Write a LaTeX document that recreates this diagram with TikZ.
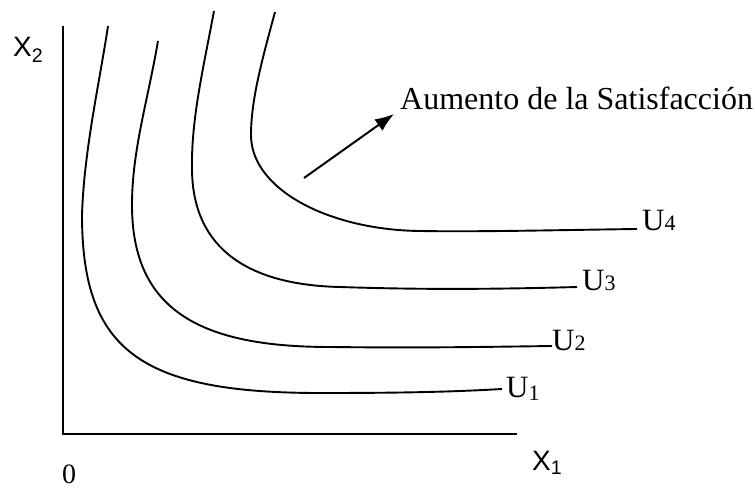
\documentclass[tikz,border=0pt]{standalone}
\usepackage{fontspec}
\setmainfont{Liberation Serif}
\setsansfont{Liberation Sans}
\usetikzlibrary{arrows.meta}
\tikzset{
  axis/.style={line width=2.2pt},
  icurve/.style={line width=1.9pt},
  ulabel/.style={anchor=base west, inner sep=0pt, font=\fontsize{31}{36}\selectfont},
  axlabel/.style={anchor=base west, inner sep=0pt, font=\sffamily\fontsize{28}{32}\selectfont},
}
\newcommand{\smalldig}[1]{{\fontsize{22}{22}\selectfont #1}}
\begin{document}
\begin{tikzpicture}[x=1pt,y=-1pt]
\useasboundingbox (0,0) rectangle (755,489);
% axes
\coordinate (top) at (63,26);
\coordinate (origin) at (63,434);
\coordinate (right) at (517,434);
\draw[axis] (top) -- (origin) -- (right);
% indifference curves
\coordinate (e1) at (502,389);
\coordinate (e2) at (552,346);
\coordinate (e3) at (577,287);
\coordinate (e4) at (637,229);
\draw[icurve] (108,26) .. controls (100,80) and (84,150) .. (82,215)
  .. controls (82,350) and (140,393) .. (320,393)
  .. controls (400,393) and (450,392) .. (e1);
\draw[icurve] (158,41) .. controls (148,100) and (132,150) .. (132,205)
  .. controls (132,310) and (200,347) .. (330,347)
  .. controls (420,348) and (480,347) .. (e2);
\draw[icurve] (214,11) .. controls (203,70) and (191,120) .. (192,170)
  .. controls (193,250) and (250,285) .. (340,287)
  .. controls (400,289) and (470,290) .. (e3);
\draw[icurve] (275,12) .. controls (262,60) and (251,100) .. (251,135)
  .. controls (251,190) and (330,230) .. (420,231)
  .. controls (480,232) and (560,230) .. (e4);
% labels
\node[ulabel] (u1) at (506,397) {U\raisebox{-3pt}{\smalldig{1}}};
\node[ulabel] (u2) at (552,350) {U\smalldig{2}};
\node[ulabel] (u3) at (582,290) {U\smalldig{3}};
\node[ulabel] (u4) at (642,230) {U\smalldig{4}};
\node[axlabel] (x2) at (13,57) {X\textsubscript{2}};
\node[axlabel] (x1) at (532,470) {X\textsubscript{1}};
\node[anchor=base west, inner sep=0pt, font=\fontsize{28}{30}\selectfont] (zero) at (62,483) {0};
% arrow
\node[anchor=base west, inner sep=0pt, font=\fontsize{32}{38}\selectfont] (sat) at (400,110) {Aumento de la Satisfacción};
\coordinate (astart) at (304,178);
\coordinate (aend) at (394,114);
\draw[line width=2pt, -{Latex[length=19pt,width=14pt]}] (astart) -- (aend);
\end{tikzpicture}
\end{document}
